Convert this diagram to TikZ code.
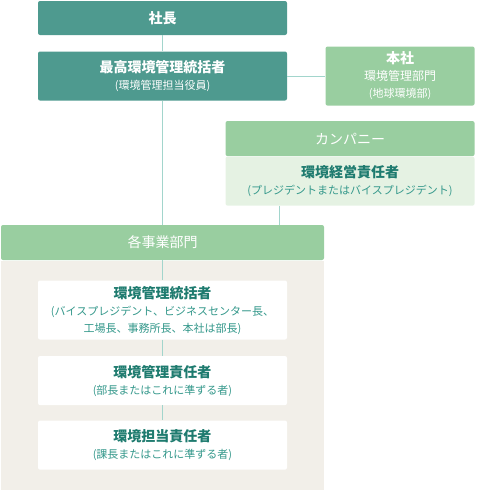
\documentclass[tikz,border=0pt]{standalone}
\usepackage{fontspec}
\setmainfont{Noto Sans CJK JP}
\usetikzlibrary{positioning}
\definecolor{headteal}{HTML}{4E9A8F}
\definecolor{lightgreen}{HTML}{99CEA0}
\definecolor{palegreen}{HTML}{E5F2E3}
\definecolor{beige}{HTML}{F2EFE9}
\definecolor{linkcol}{HTML}{A2D5CC}
\definecolor{titlecol}{HTML}{1E7B6F}
\definecolor{subcol}{HTML}{34988B}
\newcommand\ttl[1]{{\fontsize{10.5}{13}\selectfont\bfseries #1}}
\tikzset{
box/.style={rounded corners=1.5pt, inner sep=0pt, align=center, minimum width=186.75pt}, % common shape of every box
topbox/.style={box, fill=headteal, text=white}, % dark boxes at the top
greenbox/.style={box, fill=lightgreen, text=white}, % light green headers
whitebox/.style={box, fill=white, text=subcol}, % boxes inside the panel
link/.style={draw=linkcol, line width=0.75pt}, % connecting lines
every node/.style={font=\fontsize{8.25}{12.75}\selectfont}, % default text size
}
\begin{document}
\begin{tikzpicture}[x=0.75pt, y=-0.75pt]
            \useasboundingbox (0,0) rectangle (477,490);
            \node[topbox, minimum height=25.5pt] (ceo) at (162.5,18) {\ttl{社長}};
            \node[topbox, minimum height=36.75pt, below=12pt of ceo] (cso) {\ttl{最高環境管理統括者}\\(環境管理担当役員)};
            \node[greenbox, minimum width=111.75pt, minimum height=44.25pt, right=28.5pt of cso] (hq) {\ttl{本社}\\{\fontsize{9}{12.75}\selectfont 環境管理部門}\\(地球環境部)};
            \node[greenbox, minimum height=26.25pt, below=11.25pt of hq.south east, anchor=north east] (co) {\fontsize{10.5}{13}\selectfont カンパニー};
            \node[box, fill=palegreen, text=subcol, minimum height=36.75pt, below=0pt of co] (coh) {\textcolor{titlecol}{\ttl{環境経営責任者}}\\(プレジデントまたはバイスプレジデント)};
            \node[greenbox, minimum width=242.25pt, minimum height=26.25pt] (div) at (162.5,242.5) {\fontsize{10.5}{13}\selectfont 各事業部門};
            \node[box, fill=beige, minimum width=242.25pt, minimum height=172.5pt, rounded corners=0pt, below=0pt of div] (panel) {};
            \node[whitebox, minimum height=44.25pt, below=15pt of div] (d1) {\textcolor{titlecol}{\ttl{環境管理統括者}}\\(バイスプレジデント、ビジネスセンター長、\\工場長、事務所長、本社は部長)};
            \node[whitebox, minimum height=36.75pt, below=12pt of d1] (d2) {\textcolor{titlecol}{\ttl{環境管理責任者}}\\(部長またはこれに準ずる者)};
            \node[whitebox, minimum height=36.75pt, below=11.25pt of d2] (d3) {\textcolor{titlecol}{\ttl{環境担当責任者}}\\(課長またはこれに準ずる者)};
            \coordinate (k) at (279,0);
            \draw[link] (ceo) -- (cso);
            \draw[link] (cso) -- (div);
            \draw[link] (cso) -- (hq);
            \draw[link] (coh.south -| k) -- (div.north -| k);
            \draw[link] (div) -- (d1);
            \draw[link] (d1) -- (d2);
            \draw[link] (d2) -- (d3);
        \end{tikzpicture}
\end{document}
